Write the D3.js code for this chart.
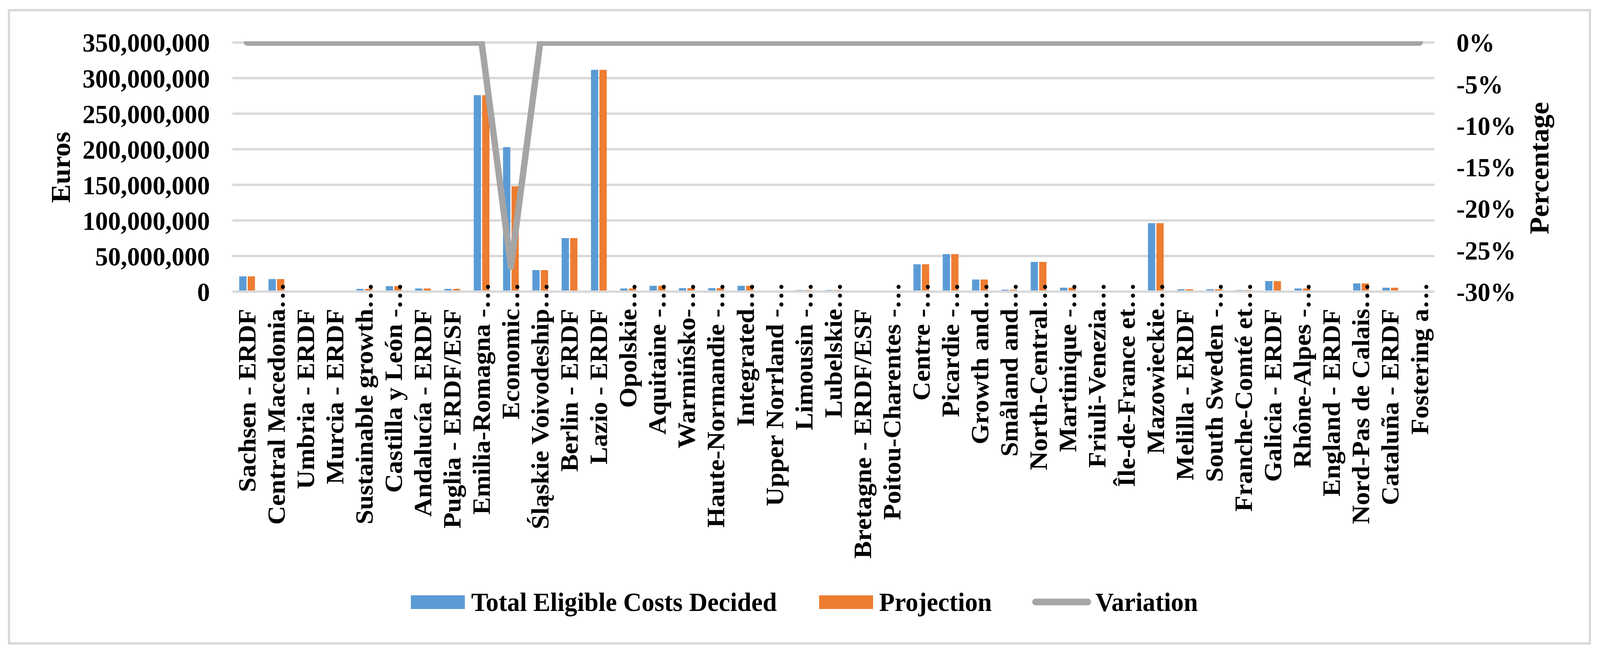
<!DOCTYPE html>
<head>
  <title>Eligible costs</title>
  <meta charset="UTF-8" />
  <style>
    html, body { margin: 0; padding: 0; background: #fff; overflow: hidden; }
    #chart { display: block; width: 100vw; height: 100vh; }
    text { font-family: "Liberation Serif", "Times New Roman", serif; font-weight: bold; fill: #000; }
  </style>
</head>
<body>
  <svg id="chart" viewBox="0 0 4268 1668" preserveAspectRatio="none"></svg>
</body>

<script src="https://cdn.jsdelivr.net/npm/d3@7"></script>
<script>
  // categories (a trailing "…" marks a truncated label)
  const categories = [
    "Sachsen - ERDF", "Central Macedonia…", "Umbria - ERDF", "Murcia - ERDF",
    "Sustainable growth…", "Castilla y León -…", "Andalucía - ERDF", "Puglia - ERDF/ESF",
    "Emilia-Romagna -…", "Economic…", "Śląskie Voivodeship…", "Berlin - ERDF",
    "Lazio - ERDF", "Opolskie…", "Aquitaine -…", "Warmińsko-…",
    "Haute-Normandie -…", "Integrated…", "Upper Norrland -…", "Limousin -…",
    "Lubelskie…", "Bretagne - ERDF/ESF", "Poitou-Charentes -…", "Centre -…",
    "Picardie -…", "Growth and…", "Småland and…", "North-Central…",
    "Martinique -…", "Friuli-Venezia…", "Île-de-France et…", "Mazowieckie…",
    "Melilla - ERDF", "South Sweden -…", "Franche-Comté et…", "Galicia - ERDF",
    "Rhône-Alpes -…", "England - ERDF", "Nord-Pas de Calais…", "Cataluña - ERDF",
    "Fostering a…"
  ];

  // Euros
  const totalCosts = [
    21.4e6, 17.6e6, 0, 0, 3.8e6, 7.7e6, 4.4e6, 3.8e6,
    276e6, 203e6, 30.2e6, 75.2e6, 311.6e6, 4.4e6, 8.2e6, 4.9e6,
    4.9e6, 8.2e6, 0, 2.2e6, 2.2e6, 0, 0, 38.4e6,
    52.7e6, 17.0e6, 2.7e6, 41.7e6, 5.5e6, 0, 0, 96.1e6,
    3.3e6, 3.3e6, 2.2e6, 14.8e6, 4.4e6, 0, 11.5e6, 5.5e6,
    0
  ];
  const projection = [
    21.4e6, 17.6e6, 0, 0, 3.8e6, 7.7e6, 4.4e6, 3.8e6,
    276e6, 148e6, 30.2e6, 75.2e6, 311.6e6, 4.4e6, 8.2e6, 4.9e6,
    4.9e6, 8.2e6, 0, 2.2e6, 2.2e6, 0, 0, 38.4e6,
    52.7e6, 17.0e6, 2.7e6, 41.7e6, 5.5e6, 0, 0, 96.1e6,
    3.3e6, 3.3e6, 2.2e6, 14.8e6, 4.4e6, 0, 11.5e6, 5.5e6,
    0
  ];
  // percentage (fraction)
  const variation = [
    0, 0, 0, 0, 0, 0, 0, 0,
    0, -0.27, 0, 0, 0, 0, 0, 0,
    0, 0, 0, 0, 0, 0, 0, 0,
    0, 0, 0, 0, 0, 0, 0, 0,
    0, 0, 0, 0, 0, 0, 0, 0,
    0
  ];

  const leftTicks = [0, 50e6, 100e6, 150e6, 200e6, 250e6, 300e6, 350e6];
  const rightTicks = [0, -0.05, -0.10, -0.15, -0.20, -0.25, -0.30];
  const seriesNames = ["Total Eligible Costs Decided", "Projection"];
  const seriesColors = ["#5b9bd5", "#ed7d31"];

  const svg = d3.select("#chart");

  // outer frame
  svg.append("rect")
    .attr("x", 24).attr("y", 26)
    .attr("width", 4217).attr("height", 1620)
    .attr("fill", "#fff")
    .attr("stroke", "#d9d9d9")
    .attr("stroke-width", 6);

  const plotLeft = 620, plotRight = 3826, plotTop = 108.7, plotBottom = 746;

  const x = d3.scaleBand().domain(categories).range([plotLeft, plotRight]).padding(0);
  const x1 = d3.scaleBand().domain(seriesNames).range([-21, 21]).paddingInner(0.14);
  const y = d3.scaleLinear().domain([0, 350e6]).range([plotBottom, plotTop]);
  const y2 = d3.scaleLinear().domain([-0.30, 0]).range([plotBottom, plotTop]);

  // gridlines
  svg.append("g")
    .selectAll("line")
    .data(leftTicks)
    .join("line")
    .attr("x1", plotLeft).attr("x2", plotRight)
    .attr("y1", d => y(d)).attr("y2", d => y(d))
    .attr("stroke", "#d9d9d9")
    .attr("stroke-width", 6);

  // bars
  const data = categories.map((c, i) => ({ c, vals: [totalCosts[i], projection[i]] }));
  const groups = svg.append("g")
    .selectAll("g")
    .data(data)
    .join("g")
    .attr("transform", d => `translate(${x(d.c) + x.bandwidth() / 2},0)`);

  groups.selectAll("rect")
    .data(d => d.vals.map((v, k) => ({ v, k })))
    .join("rect")
    .attr("x", d => x1(seriesNames[d.k]))
    .attr("width", x1.bandwidth())
    .attr("y", d => y(d.v))
    .attr("height", d => plotBottom - y(d.v))
    .attr("fill", d => seriesColors[d.k]);

  // axis line on top of bars
  svg.append("line")
    .attr("x1", plotLeft).attr("x2", plotRight)
    .attr("y1", plotBottom).attr("y2", plotBottom)
    .attr("stroke", "#d9d9d9")
    .attr("stroke-width", 6);

  // variation line (clipped at plot top)
  svg.append("clipPath").attr("id", "plotclip")
    .append("rect")
    .attr("x", 0).attr("y", 105.5)
    .attr("width", 4268).attr("height", 1000);

  const line = d3.line()
    .x((d, i) => x(categories[i]) + x.bandwidth() / 2)
    .y(d => y2(d));

  svg.append("path")
    .datum(variation)
    .attr("d", line)
    .attr("fill", "none")
    .attr("stroke", "#a5a5a5")
    .attr("stroke-width", 17)
    .attr("stroke-linejoin", "round")
    .attr("stroke-linecap", "round")
    .attr("clip-path", "url(#plotclip)");

  // left axis labels
  const fmt = d3.format(",");
  svg.append("g")
    .selectAll("text")
    .data(leftTicks)
    .join("text")
    .attr("x", 560)
    .attr("y", d => y(d))
    .attr("dy", "0.35em")
    .attr("text-anchor", "end")
    .attr("font-size", 68)
    .text(d => fmt(d));

  // right axis labels
  svg.append("g")
    .selectAll("text")
    .data(rightTicks)
    .join("text")
    .attr("x", 3885)
    .attr("y", d => y2(d))
    .attr("dy", "0.35em")
    .attr("font-size", 68)
    .text(d => Math.round(d * 100) + "%");

  // axis titles
  svg.append("text")
    .attr("transform", "translate(187,428) rotate(-90)")
    .attr("text-anchor", "middle")
    .attr("font-size", 72)
    .text("Euros");

  svg.append("text")
    .attr("transform", "translate(4130,430) rotate(-90)")
    .attr("text-anchor", "middle")
    .attr("font-size", 72)
    .text("Percentage");

  // category labels, rotated; the ellipsis hangs past the anchor
  const labelTop = 790;
  const lab = svg.append("g")
    .selectAll("g")
    .data(categories)
    .join("g")
    .attr("transform", d => `translate(${x(d) + x.bandwidth() / 2},${labelTop}) rotate(-90)`);

  lab.append("text")
    .attr("text-anchor", "end")
    .attr("dy", "0.33em")
    .attr("font-size", 67)
    .text(d => d.replace("…", ""));

  lab.filter(d => d.endsWith("…"))
    .append("text")
    .attr("text-anchor", "start")
    .attr("dy", "0.33em")
    .attr("font-size", 67)
    .text("…");

  // legend
  const legend = svg.append("g");
  legend.append("rect").attr("x", 1096).attr("y", 1523).attr("width", 144).attr("height", 35).attr("fill", seriesColors[0]);
  legend.append("text").attr("x", 1257).attr("y", 1563).attr("font-size", 68).text(seriesNames[0]);
  legend.append("rect").attr("x", 2185).attr("y", 1523).attr("width", 144).attr("height", 35).attr("fill", seriesColors[1]);
  legend.append("text").attr("x", 2345).attr("y", 1563).attr("font-size", 68).text(seriesNames[1]);
  legend.append("line")
    .attr("x1", 2762).attr("x2", 2902)
    .attr("y1", 1540).attr("y2", 1540)
    .attr("stroke", "#a5a5a5")
    .attr("stroke-width", 17)
    .attr("stroke-linecap", "round");
  legend.append("text").attr("x", 2922).attr("y", 1563).attr("font-size", 68).text("Variation");
</script>
